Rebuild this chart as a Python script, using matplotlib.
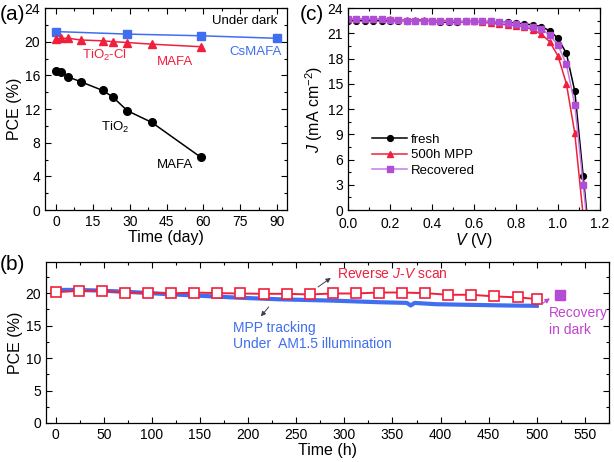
import matplotlib
matplotlib.use("Agg")
import matplotlib.pyplot as plt
from matplotlib.ticker import MultipleLocator, AutoMinorLocator, FormatStrFormatter

plt.rcParams["font.family"] = ["Liberation Sans", "DejaVu Sans"]
plt.rcParams["mathtext.fontset"] = "custom"
plt.rcParams["mathtext.rm"] = "Liberation Sans"
plt.rcParams["mathtext.it"] = "Liberation Sans:italic"

# ---- (a) PCE vs storage time in dark ----
days_cs = [0, 29, 59, 90]
pce_cs = [21.2, 20.9, 20.7, 20.4]
days_mafa = [0, 2, 5, 10, 19, 23, 29, 39, 59]
pce_cl = [20.3, 20.4, 20.4, 20.2, 20.1, 20.0, 19.9, 19.7, 19.4]
pce_tio2 = [16.55, 16.4, 15.8, 15.25, 14.2, 13.45, 11.8, 10.4, 6.25]

# ---- (b) long-term MPP tracking ----
scan_h = [0, 24, 48, 72, 96, 120, 144, 168, 192, 216, 240, 264, 288, 312,
          336, 360, 384, 408, 432, 456, 480, 500]
scan_pce = [20.15, 20.35, 20.4, 20.05, 20.1, 19.95, 20.1, 20.0, 19.95, 19.9,
            19.9, 19.8, 19.95, 19.95, 20.1, 20.1, 20.0, 19.75, 19.75, 19.5,
            19.35, 19.1]
mpp_h = [0, 20, 46, 81, 116, 150, 190, 233, 288, 337, 365, 369, 373, 395,
         430, 470, 500]
mpp_pce = [20.5, 20.5, 20.4, 20.15, 19.85, 19.6, 19.3, 19.05, 18.85, 18.6,
           18.5, 18.1, 18.5, 18.3, 18.2, 18.1, 18.05]
recov_h = [524]
recov_pce = [19.65]

# ---- (c) J-V curves ----
volt = [0.00, 0.04, 0.08, 0.12, 0.16, 0.20, 0.24, 0.28, 0.32, 0.36, 0.40,
        0.44, 0.48, 0.52, 0.56, 0.60, 0.64, 0.68, 0.72, 0.76, 0.80, 0.84,
        0.88, 0.92, 0.96, 1.00, 1.04, 1.08, 1.12, 1.16]
j_fresh = [22.5, 22.5, 22.5, 22.5, 22.5, 22.5, 22.5, 22.5, 22.5, 22.5, 22.4,
           22.3, 22.3, 22.3, 22.4, 22.4, 22.4, 22.4, 22.3, 22.3, 22.2, 22.1,
           22.0, 21.8, 21.3, 20.4, 18.6, 14.1, 4.0, -6.0]
j_mpp = [22.7, 22.7, 22.7, 22.7, 22.7, 22.7, 22.6, 22.6, 22.6, 22.6, 22.5,
         22.5, 22.5, 22.4, 22.4, 22.4, 22.3, 22.2, 22.1, 22.0, 21.9, 21.8,
         21.4, 20.9, 20.0, 18.3, 15.0, 9.1, -0.7]
j_rec = [22.7, 22.7, 22.7, 22.7, 22.7, 22.6, 22.6, 22.5, 22.5, 22.4, 22.4,
         22.4, 22.4, 22.4, 22.4, 22.4, 22.4, 22.4, 22.3, 22.2, 22.1, 21.9,
         21.7, 21.5, 20.8, 19.6, 17.3, 12.5, 3.0, -6.5]

BLUE = "#3f6ff0"
RED = "#f0203c"
VIOLET = "#c67ae8"
VIOLET_M = "#b04ed6"
MAG = "#c043d0"

fig = plt.figure(figsize=(6.14, 4.62), dpi=100)
ax_a = fig.add_axes([45 / 614, 1 - 210 / 462, 242 / 614, 202 / 462])
ax_c = fig.add_axes([348 / 614, 1 - 210 / 462, 252 / 614, 202 / 462])
ax_b = fig.add_axes([46 / 614, 1 - 423 / 462, 563 / 614, 161 / 462])


def style(ax):
    ax.tick_params(which="both", direction="in", top=True, right=True,
                   labelsize=10, width=0.8)
    ax.tick_params(which="major", length=4)
    ax.tick_params(which="minor", length=2.5)
    for s in ax.spines.values():
        s.set_linewidth(0.9)
    ax.xaxis.set_minor_locator(AutoMinorLocator(2))
    ax.yaxis.set_minor_locator(AutoMinorLocator(2))


# (a)
ax_a.plot(days_cs, pce_cs, "-s", color=BLUE, ms=5.5, lw=1.1)
ax_a.plot(days_mafa, pce_cl, "-^", color=RED, ms=5.5, lw=1.1)
ax_a.plot(days_mafa, pce_tio2, "-o", color="black", ms=5.5, lw=1.1)
ax_a.set_xlim(-4.5, 94)
ax_a.set_ylim(0, 24)
ax_a.xaxis.set_major_locator(MultipleLocator(15))
ax_a.yaxis.set_major_locator(MultipleLocator(4))
style(ax_a)
ax_a.set_xlabel("Time (day)", fontsize=11.5, labelpad=1)
ax_a.set_ylabel("PCE (%)", fontsize=11.5, labelpad=2)
ax_a.text(90, 22.5, "Under dark", fontsize=9.5, ha="right", va="center")
ax_a.text(92, 18.8, "CsMAFA", fontsize=9.5, ha="right", va="center", color=BLUE)
ax_a.text(10.6, 18.4, "TiO$_2$-Cl", fontsize=9.5, ha="left", va="center", color=RED)
ax_a.text(41, 17.6, "MAFA", fontsize=9.5, ha="left", va="center", color=RED)
ax_a.text(18.3, 9.85, "TiO$_2$", fontsize=9.5, ha="left", va="center")
ax_a.text(41, 5.3, "MAFA", fontsize=9.5, ha="left", va="center")

# (c)
ax_c.plot(volt, j_fresh, "-o", color="black", ms=4.2, lw=1.1, label="fresh")
ax_c.plot(volt[:len(j_mpp)], j_mpp, "-^", color=RED, ms=4.6, lw=1.1,
          label="500h MPP")
ax_c.plot(volt, j_rec, "-s", color=VIOLET, mfc=VIOLET_M, mec=VIOLET_M, ms=4,
          lw=1.1, label="Recovered")
ax_c.set_xlim(0, 1.2)
ax_c.set_ylim(0, 24)
ax_c.xaxis.set_major_locator(MultipleLocator(0.2))
ax_c.xaxis.set_major_formatter(FormatStrFormatter("%.1f"))
ax_c.yaxis.set_major_locator(MultipleLocator(3))
style(ax_c)
ax_c.tick_params(axis="x", which="major", pad=5)
ax_c.set_xlabel("$V$ (V)", fontsize=11.5, labelpad=0)
ax_c.set_ylabel("$J$ (mA cm$^{-2}$)", fontsize=11.5, labelpad=2)
ax_c.legend(loc="upper left", bbox_to_anchor=(0.055, 0.43), frameon=False,
            fontsize=9.5, handlelength=2.6, handletextpad=0.3,
            labelspacing=0.25, borderpad=0.3)

# (b)
ax_b.plot(mpp_h, mpp_pce, "-", color=BLUE, lw=3, zorder=2)
ax_b.plot(scan_h, scan_pce, "-s", color=RED, mfc="white", mec=RED, ms=6.5,
          mew=1.2, lw=1.4, zorder=3)
ax_b.plot(recov_h, recov_pce, "s", color=VIOLET_M, mec=MAG, ms=6.5, zorder=3)
ax_b.set_xlim(-10, 575)
ax_b.set_ylim(0, 24.8)
ax_b.xaxis.set_major_locator(MultipleLocator(50))
ax_b.yaxis.set_major_locator(MultipleLocator(5))
style(ax_b)
ax_b.set_xlabel("Time (h)", fontsize=11.5, labelpad=1)
ax_b.set_ylabel("PCE (%)", fontsize=11.5, labelpad=2)
ax_b.text(292, 23.0, "Reverse $J$-$V$ scan", fontsize=10, color=RED,
          ha="left", va="center")
ax_b.annotate("", xy=(288.3, 22.6), xytext=(270.3, 20.7),
              arrowprops=dict(arrowstyle="-|>", color="#3a3f55", lw=0.7,
                              mutation_scale=7))
ax_b.text(184.4, 14.7, "MPP tracking", fontsize=10, color=BLUE,
          ha="left", va="center")
ax_b.text(184.4, 12.2, "Under  AM1.5 illumination", fontsize=10, color=BLUE,
          ha="left", va="center")
ax_b.annotate("", xy=(211.4, 16.1), xytext=(223.3, 18.2),
              arrowprops=dict(arrowstyle="-|>", color="#3a3f55", lw=0.7,
                              mutation_scale=7))
ax_b.text(513, 16.9, "Recovery", fontsize=10, color=MAG, ha="left", va="center")
ax_b.text(513, 14.4, "in dark", fontsize=10, color=MAG, ha="left", va="center")
ax_b.annotate("", xy=(516, 19.45), xytext=(502, 18.0),
              arrowprops=dict(arrowstyle="-|>", color=MAG, lw=0.8,
                              mutation_scale=7))

# panel letters
fig.text(0.0, 1 - 15 / 462, "(a)", fontsize=15, va="center", ha="left")
fig.text(300 / 614, 1 - 15 / 462, "(c)", fontsize=15, va="center", ha="left")
fig.text(0.0, 1 - 265 / 462, "(b)", fontsize=15, va="center", ha="left")

fig.savefig("out.png", dpi=100)
